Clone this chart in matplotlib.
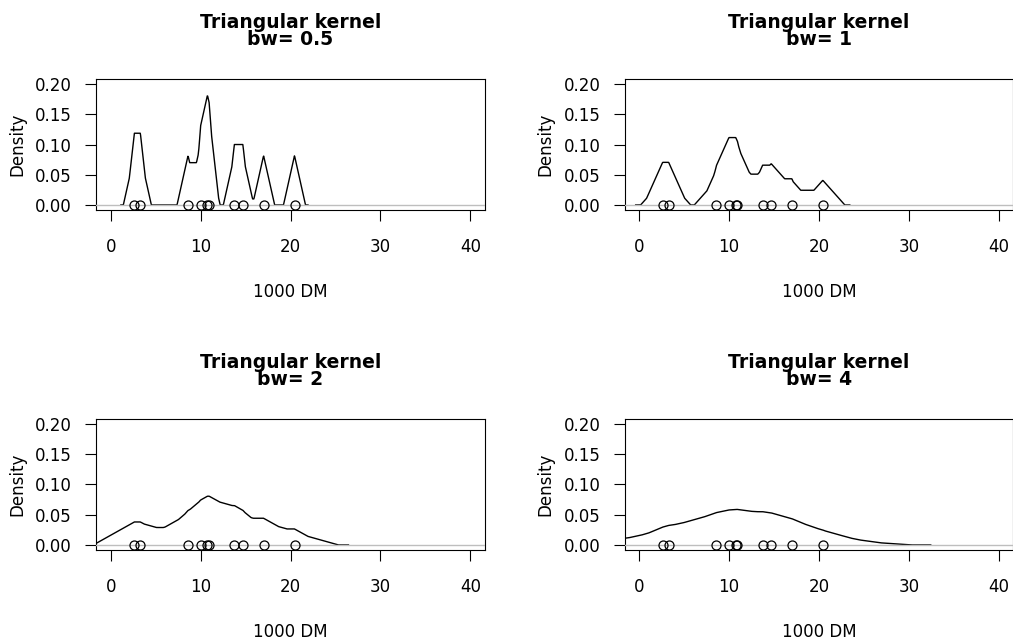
import numpy as np
import matplotlib.pyplot as plt

# credit amounts in 1000 DM
amounts = np.array([2.63, 3.30, 8.60, 10.00, 10.76, 10.95, 13.75, 14.70, 17.00, 20.44])
bandwidths = [0.5, 1, 2, 4]
xticks = [0, 10, 20, 30, 40]
yticks = [0.00, 0.05, 0.10, 0.15, 0.20]


def tri_density(data, bw, n=512, cut=3):
    # triangular kernel with sd = bw, like R's density(kernel="triangular")
    a = bw * np.sqrt(6)
    grid = np.linspace(data.min() - cut * bw, data.max() + cut * bw, n)
    u = np.abs(grid[:, None] - data[None, :]) / a
    k = np.clip(1 - u, 0, None) / a
    return grid, k.mean(axis=1)


W, H = 1013, 640
fig = plt.figure(figsize=(W / 100, H / 100), dpi=100)
plt.rcParams['font.family'] = ['DejaVu Sans']

px = 0.72  # points per pixel
lefts = [96.3, 624.6]
bottoms = [209.8, 549.8]
aw, ah = 388.5, 130.6

for i, bw in enumerate(bandwidths):
    left = lefts[i % 2]
    bottom = bottoms[i // 2]
    ax = fig.add_axes([left / W, (H - bottom) / H, aw / W, ah / H])

    x, y = tri_density(amounts, bw)
    ax.plot(x, y, color='black', lw=1.0, zorder=2)
    ax.axhline(0, color='#BEBEBE', lw=1.0, zorder=3)
    ax.plot(amounts, np.zeros_like(amounts), 'o', mfc='none', mec='black',
            ms=6.5, mew=0.9, zorder=4, clip_on=False)

    ax.set_xlim(-1.6, 41.6)
    ax.set_ylim(-0.008, 0.208)
    ax.set_xticks(xticks)
    ax.set_yticks(yticks)
    ax.set_xticklabels([str(t) for t in xticks])
    ax.set_yticklabels([f'{t:.2f}' for t in yticks])
    ax.tick_params(direction='out', length=8, width=0.8, labelsize=12,
                   top=False, right=False)
    ax.tick_params(axis='x', pad=12.5)
    ax.tick_params(axis='y', pad=9.5)
    for s in ax.spines.values():
        s.set_linewidth(0.8)

    ax.annotate(f'Triangular kernel\nbw= {bw:g}', xy=(0.5, 1),
                xycoords='axes fraction', xytext=(0, 29.8 * px),
                textcoords='offset points', ha='center', va='bottom',
                multialignment='center', linespacing=0.9,
                fontsize=13.5, fontweight='bold')
    ax.annotate('1000 DM', xy=(0.5, 0), xycoords='axes fraction',
                xytext=(0, -87 * px), textcoords='offset points',
                ha='center', va='baseline', fontsize=12)
    ax.annotate('Density', xy=(0, 0.5), xycoords='axes fraction',
                xytext=(-78.8 * px, 0), textcoords='offset points',
                ha='center', va='center', rotation=90, fontsize=12)

fig.savefig('out.png', dpi=100)
